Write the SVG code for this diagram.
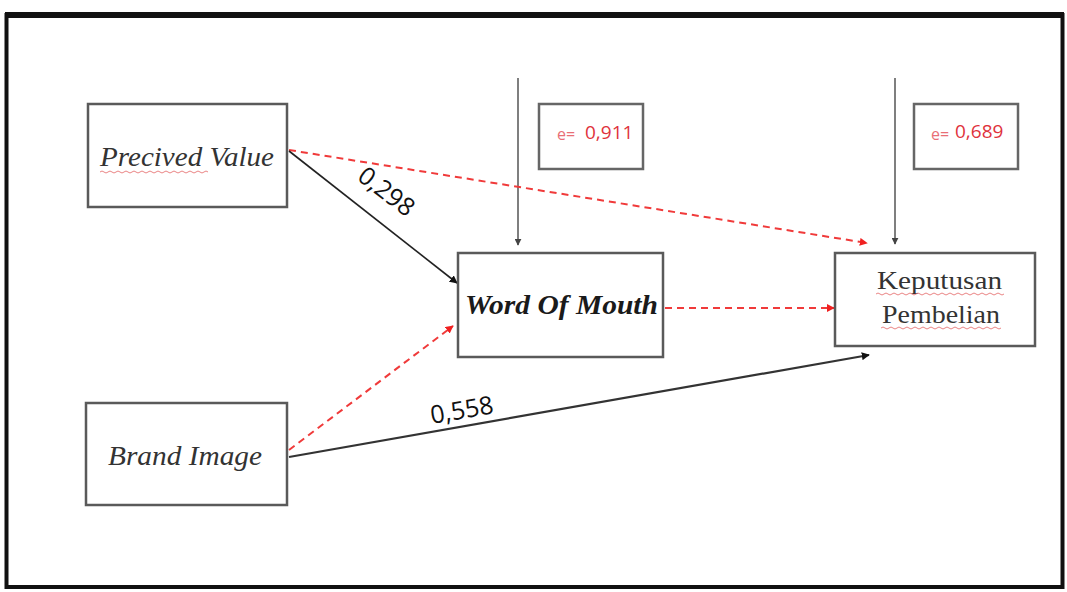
<svg xmlns="http://www.w3.org/2000/svg" width="1067" height="592" viewBox="0 0 1067 592">
<defs>
<style>
.box{fill:#fff;stroke:#5a5a5a;stroke-width:2.5}
.ebox{fill:#fff;stroke:#666;stroke-width:2.5}
.serif{font-family:"Liberation Serif","DejaVu Serif",serif;fill:#333}
.num{font-family:"Open Sans","Liberation Sans",sans-serif;fill:#111}
.red{font-family:"Open Sans","Liberation Sans",sans-serif;fill:#e0323c}
.solid{stroke:#222;stroke-width:1.6;fill:none}
.dash{stroke:#f03a3a;stroke-width:2;stroke-dasharray:7 5;fill:none}
.squig{stroke:#e05050;stroke-width:1;fill:none;opacity:0.7}
</style>
<marker id="ab" viewBox="0 0 10 10" refX="9" refY="5" markerWidth="8" markerHeight="8" markerUnits="userSpaceOnUse" orient="auto"><path d="M0,0 L10,5 L0,10 z" fill="#111"/></marker>
<marker id="ar" viewBox="0 0 10 10" refX="9" refY="5" markerWidth="8" markerHeight="8" markerUnits="userSpaceOnUse" orient="auto"><path d="M0,0 L10,5 L0,10 z" fill="#f02020"/></marker>
<marker id="ag" viewBox="0 0 10 10" refX="9" refY="5" markerWidth="7" markerHeight="7" markerUnits="userSpaceOnUse" orient="auto"><path d="M0,0 L10,5 L0,10 z" fill="#444"/></marker>
</defs>
<rect x="0" y="0" width="1067" height="592" fill="#fff"/>
<rect x="6.5" y="15" width="1056" height="572" fill="none" stroke="#111" stroke-width="4"/>
<line x1="5" y1="15" x2="1064" y2="15" stroke="#111" stroke-width="6"/>

<g id="connectors">
<line class="solid" x1="518" y1="78" x2="518" y2="245" marker-end="url(#ag)" style="stroke:#555;stroke-width:1.5"/>
<line class="solid" x1="895" y1="78" x2="895" y2="244" marker-end="url(#ag)" style="stroke:#555;stroke-width:1.5"/>
<line class="dash" x1="289" y1="150" x2="867" y2="243" marker-end="url(#ar)"/>
<line class="solid" x1="289" y1="151" x2="457" y2="283" marker-end="url(#ab)"/>
<line class="dash" x1="665" y1="308" x2="834" y2="308" marker-end="url(#ar)"/>
<line class="dash" x1="289" y1="450" x2="453" y2="326" marker-end="url(#ar)"/>
<line class="solid" x1="289" y1="457" x2="869" y2="355" marker-end="url(#ab)" style="stroke-width:2.2;stroke:#333"/>
<text class="num" font-size="25" transform="translate(356,179) rotate(37.5)">0,298</text>
<text class="num" font-size="25" transform="translate(432,424) rotate(-10)">0,558</text>
</g>

<g id="precived-value">
<rect class="box" x="88" y="104" width="199" height="103"/>
<text class="serif" x="100" y="166" font-size="27" font-style="italic" textLength="174" lengthAdjust="spacingAndGlyphs">Precived Value</text>
<path class="squig" d="M100,172 q2,-2 4,0 t4,0 t4,0 t4,0 t4,0 t4,0 t4,0 t4,0 t4,0 t4,0 t4,0 t4,0 t4,0 t4,0 t4,0 t4,0 t4,0 t4,0 t4,0 t4,0 t4,0 t4,0 t4,0 t4,0 t4,0 t4,0 t4,0"/>
</g>

<g id="e1">
<rect class="ebox" x="539" y="104" width="104" height="65"/>
<text class="red" x="557" y="140" font-size="16" opacity="0.7">e=</text>
<text class="red" x="585" y="139" font-size="19">0,911</text>
</g>

<g id="e2">
<rect class="ebox" x="914" y="104" width="104" height="65"/>
<text class="red" x="931" y="140" font-size="16" opacity="0.7">e=</text>
<text class="red" x="955" y="138" font-size="19">0,689</text>
</g>

<g id="word-of-mouth">
<rect class="box" x="458" y="253" width="205" height="104"/>
<text class="serif" x="465" y="314" font-size="28" font-style="italic" font-weight="bold" textLength="193" lengthAdjust="spacingAndGlyphs" style="fill:#1a1a1a">Word Of Mouth</text>
</g>

<g id="keputusan-pembelian">
<rect class="box" x="835" y="253" width="200" height="93"/>
<text class="serif" x="877" y="289" font-size="26" textLength="125" lengthAdjust="spacingAndGlyphs">Keputusan</text>
<text class="serif" x="882" y="323" font-size="26" textLength="118" lengthAdjust="spacingAndGlyphs">Pembelian</text>
<path class="squig" d="M876,294 q2,-2 4,0 t4,0 t4,0 t4,0 t4,0 t4,0 t4,0 t4,0 t4,0 t4,0 t4,0 t4,0 t4,0 t4,0 t4,0 t4,0 t4,0 t4,0 t4,0 t4,0 t4,0 t4,0 t4,0 t4,0 t4,0 t4,0 t4,0 t4,0 t4,0 t4,0 t4,0 t4,0"/>
<path class="squig" d="M881,328 q2,-2 4,0 t4,0 t4,0 t4,0 t4,0 t4,0 t4,0 t4,0 t4,0 t4,0 t4,0 t4,0 t4,0 t4,0 t4,0 t4,0 t4,0 t4,0 t4,0 t4,0 t4,0 t4,0 t4,0 t4,0 t4,0 t4,0 t4,0 t4,0 t4,0 t4,0"/>
</g>

<g id="brand-image">
<rect class="box" x="86" y="403" width="201" height="102"/>
<text class="serif" x="108" y="465" font-size="27" font-style="italic" textLength="154" lengthAdjust="spacingAndGlyphs">Brand Image</text>
</g>
</svg>
